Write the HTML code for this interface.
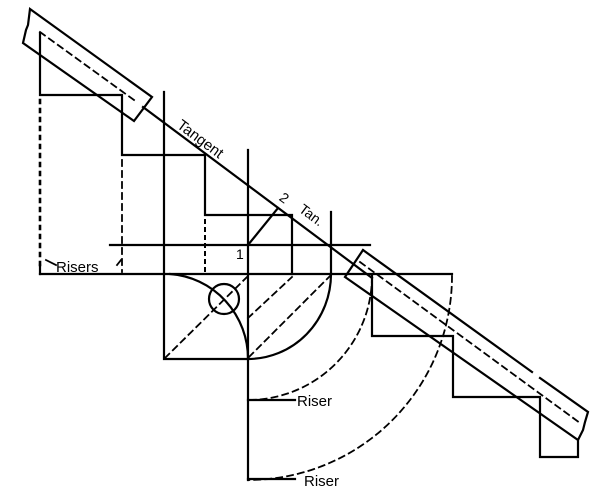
<!DOCTYPE html>
<html><head><style>body{margin:0;background:#fff}svg{display:block}</style></head><body>
<svg width="600" height="494" viewBox="0 0 600 494" xmlns="http://www.w3.org/2000/svg" font-family="Liberation Sans, sans-serif">
<g fill="none" stroke="#000" stroke-width="2.2" stroke-linecap="square">
<!-- top rail -->
<path d="M30,9 L152,97 L134,121 L23,43 L26,30 L28,25 Z"/>
<path d="M40,32 L134,100" stroke-dasharray="6,5" stroke-width="1.8"/>
<!-- tangent line -->
<path d="M143,107 L372,278"/>
<!-- upper stairs -->
<path d="M40,33 L40,95 L122,95 L122,155 L205,155 L205,215 L292,215 L292,274"/>
<!-- dotted/dashed verticals -->
<path d="M40,100 L40,268" stroke-dasharray="3,6" stroke-width="2.6"/>
<path d="M122,160 L122,272" stroke-dasharray="6,5" stroke-width="1.8"/>
<path d="M205,220 L205,272" stroke-dasharray="3,5" stroke-width="2"/>
<path d="M40,265 L40,274"/>
<!-- horizontals -->
<path d="M40,274 L452,274"/>
<path d="M110,245 L370,245"/>
<!-- verticals -->
<path d="M164,92 L164,359 L248,359"/>
<path d="M248,150 L248,480"/>
<path d="M331,212 L331,274"/>
<!-- arcs -->
<path d="M331,274 A83,85 0 0 1 248,359"/>
<path d="M170,274 A84,85 0 0 1 248,359"/>
<circle cx="224" cy="299" r="15"/>
<!-- 1-2 line -->
<path d="M248,245 L278,208"/>
<!-- dashed diagonals -->
<g stroke-dasharray="6,5" stroke-width="1.8">
<path d="M165,358 L248,276"/>
<path d="M249,357 L330,276"/>
<path d="M248,318 L292,277"/>
<path d="M372,276 A124,124 0 0 1 248,400"/>
<path d="M452,276 A204,204 0 0 1 248,480"/>
<path d="M360,262 L580,423"/>
</g>
<!-- riser lines -->
<path d="M248,400 L295,400"/>
<path d="M248,479 L295,479"/>
<path d="M46,260 L56,265" stroke-width="1.8"/>
<path d="M117,265 L121,260" stroke-width="1.8"/>
<!-- second rail -->
<path d="M363,250 L532,372"/>
<path d="M540,378 L588,412 L585,422 L583,430 L578,440 L345,277 L363,250"/>
<!-- lower stairs -->
<path d="M372,276 L372,336 L453,336 L453,397 L540,397 L540,457 L578,457 L578,440"/>
</g>
<g font-size="15" fill="#000">
<text x="56" y="272">Risers</text>
<text x="297" y="406">Riser</text>
<text x="304" y="486">Riser</text>
<text x="236" y="259" font-size="14">1</text>
<text x="280" y="204" font-size="14" transform="rotate(36 286 199)">2</text>
<text transform="translate(176,127) rotate(36.7)" font-size="15">Tangent</text>
<text transform="translate(298,211) rotate(36.7)" font-size="14">Tan.</text>
</g>
</svg>
</body></html>
